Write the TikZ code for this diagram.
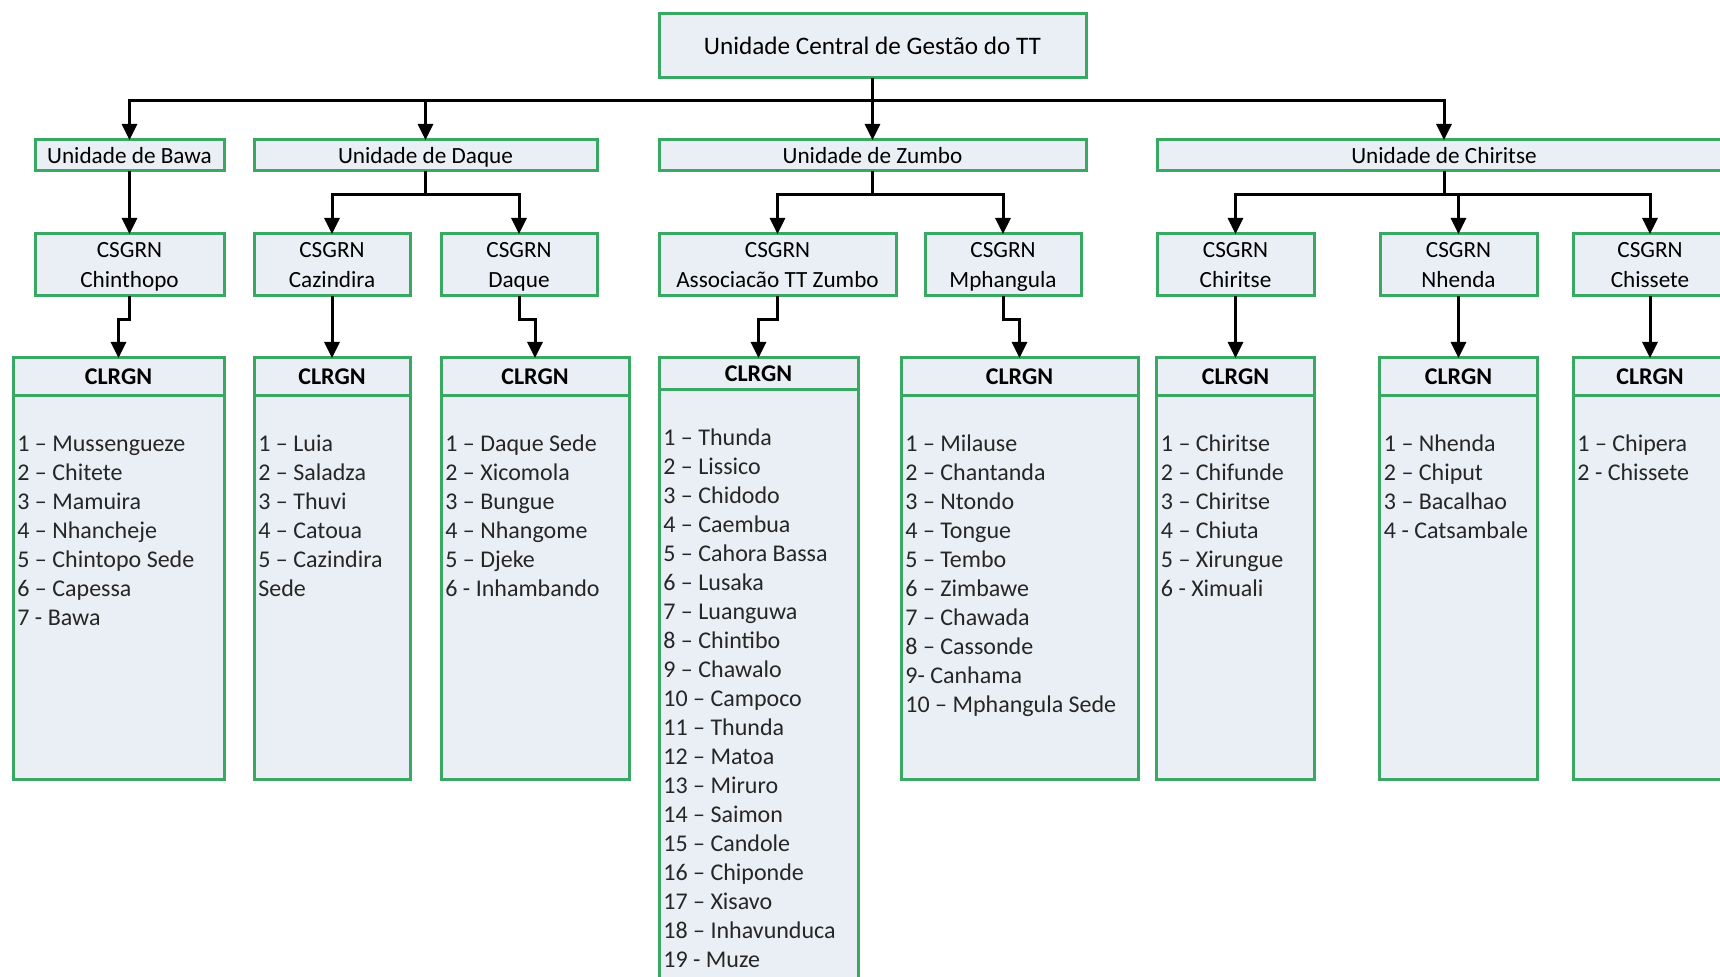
\documentclass[tikz,border=0pt]{standalone}
\usepackage{fontspec}
\setmainfont{Carlito}
\usetikzlibrary{arrows.meta,positioning}
\definecolor{boxgreen}{RGB}{56,168,98}
\definecolor{boxfill}{RGB}{234,239,245}
\def\sitelist(#1)#2{\foreach \site [count=\k] in {#2} \node[site] (#1-\k) at ([shift={(4,{56+29*(\k-1)})}]#1.north west) {\site};}

\begin{document}
\begin{tikzpicture}[x=0.5pt,y=-0.5pt,
		box/.style={draw=boxgreen,fill=boxfill,line width=1.5pt,inner sep=0pt,outer sep=0pt,align=center,text depth=0pt,font=\fontsize{11.6}{15}\selectfont},
		unit/.style={box,minimum height=15.5pt},
		csgrn/.style={box,minimum height=31pt},
		hdr/.style={box,minimum height=19pt,font=\bfseries\fontsize{12}{14}\selectfont},
		body/.style={box,minimum height=192pt},
		site/.style={anchor=base west,inner sep=0pt,text=black!85,font=\fontsize{12}{14.5}\selectfont},
		conn/.style={line width=1.5pt,-{Triangle[width=7.5pt,length=8pt]}}]
			%%%%% START %%%%%
			
			\path[use as bounding box,clip] (0,0) rectangle (1720,977);
			
			\node[box,minimum width=213.5pt,minimum height=32pt,font=\fontsize{12.6}{15}\selectfont] (central) at (872.5,46) {Unidade Central de Gestão do TT};
			
			\node[unit,minimum width=94.5pt] (ubawa) at (129.5,155.5) {Unidade de Bawa};
			\node[unit,minimum width=171.5pt] (udaque) at (425.5,155.5) {Unidade de Daque};
			\node[unit,minimum width=213.5pt] (uzumbo) at (872.5,155.5) {Unidade de Zumbo};
			\node[unit,minimum width=287pt] (uchiritse) at (1444,155.5) {Unidade de Chiritse};
			
			\node[csgrn,minimum width=94.5pt] (cchinthopo) at (129.5,265) {CSGRN\\Chinthopo};
			\node[csgrn,minimum width=78pt] (ccazindira) at (332,265) {CSGRN\\Cazindira};
			\node[csgrn,minimum width=78pt] (cdaque) at (519,265) {CSGRN\\Daque};
			\node[csgrn,minimum width=118.5pt] (cassoc) at (777.5,265) {CSGRN\\Associacão TT Zumbo};
			\node[csgrn,minimum width=78pt] (cmphangula) at (1003,265) {CSGRN\\Mphangula};
			\node[csgrn,minimum width=78.5pt] (cchiritse) at (1235.5,265) {CSGRN\\Chiritse};
			\node[csgrn,minimum width=78.5pt] (cnhenda) at (1458.5,265) {CSGRN\\Nhenda};
			\node[csgrn,minimum width=77pt] (cchissete) at (1650,265) {CSGRN\\Chissete};
			
			\node[hdr,minimum width=105.5pt] (h1) at (118.5,377) {CLRGN};
			\node[body,minimum width=105.5pt,below=0pt of h1] (b1) {};
			\node[hdr,minimum width=78pt] (h2) at (332,377) {CLRGN};
			\node[body,minimum width=78pt,below=0pt of h2] (b2) {};
			\node[hdr,minimum width=94pt] (h3) at (535,377) {CLRGN};
			\node[body,minimum width=94pt,below=0pt of h3] (b3) {};
			\node[hdr,minimum width=99.5pt,minimum height=16pt] (h4) at (758.5,374) {CLRGN};
			\node[body,minimum width=99.5pt,minimum height=305pt,below=0pt of h4] (b4) {};
			\node[hdr,minimum width=118.5pt] (h5) at (1019.5,377) {CLRGN};
			\node[body,minimum width=118.5pt,below=0pt of h5] (b5) {};
			\node[hdr,minimum width=79pt] (h6) at (1235.5,377) {CLRGN};
			\node[body,minimum width=79pt,below=0pt of h6] (b6) {};
			\node[hdr,minimum width=79pt] (h7) at (1458.5,377) {CLRGN};
			\node[body,minimum width=79pt,below=0pt of h7] (b7) {};
			\node[hdr,minimum width=77pt] (h8) at (1650,377) {CLRGN};
			\node[body,minimum width=77pt,below=0pt of h8] (b8) {};
			
			\sitelist(b1){1 – Mussengueze,2 – Chitete,3 – Mamuira,4 – Nhancheje,5 – Chintopo Sede,6 – Capessa,7 - Bawa}
			\sitelist(b2){1 – Luia,2 – Saladza,3 – Thuvi,4 – Catoua,5 – Cazindira,Sede}
			\sitelist(b3){1 – Daque Sede,2 – Xicomola,3 – Bungue,4 – Nhangome,5 – Djeke,6 - Inhambando}
			\sitelist(b4){1 – Thunda,2 – Lissico,3 – Chidodo,4 – Caembua,5 – Cahora Bassa,6 – Lusaka,7 – Luanguwa,8 – Chintibo,9 – Chawalo,10 – Campoco,11 – Thunda,12 – Matoa,13 – Miruro,14 – Saimon,15 – Candole,16 – Chiponde,17 – Xisavo,18 – Inhavunduca,19 - Muze}
			\sitelist(b5){1 – Milause,2 – Chantanda,3 – Ntondo,4 – Tongue,5 – Tembo,6 – Zimbawe,7 – Chawada,8 – Cassonde,9- Canhama,10 – Mphangula Sede}
			\sitelist(b6){1 – Chiritse,2 – Chifunde,3 – Chiritse,4 – Chiuta,5 – Xirungue,6 - Ximuali}
			\sitelist(b7){1 – Nhenda,2 – Chiput,3 – Bacalhao,4 - Catsambale}
			\sitelist(b8){1 – Chipera,2 - Chissete}
			
			\draw[conn] (central.south) -- ++(0,23) -| (ubawa);
			\draw[conn] (central.south) -- ++(0,23) -| (udaque);
			\draw[conn] (central) -- (uzumbo);
			\draw[conn] (central.south) -- ++(0,23) -| (uchiritse);
			
			\draw[conn] (ubawa) -- (cchinthopo);
			\draw[conn] (udaque.south) -- ++(0,24) -| (ccazindira);
			\draw[conn] (udaque.south) -- ++(0,24) -| (cdaque);
			\draw[conn] (uzumbo.south) -- ++(0,24) -| (cassoc);
			\draw[conn] (uzumbo.south) -- ++(0,24) -| (cmphangula);
			\draw[conn] (uchiritse.south) -- ++(0,24) -| (cchiritse);
			\draw[conn] (uchiritse.south) -- ++(0,24) -| (cnhenda);
			\draw[conn] (uchiritse.south) -- ++(0,24) -| (cchissete);
			
			\draw[conn] (cchinthopo.south) -- ++(0,24) -| (h1);
			\draw[conn] (ccazindira) -- (h2);
			\draw[conn] (cdaque.south) -- ++(0,24) -| (h3);
			\draw[conn] (cassoc.south) -- ++(0,24) -| (h4);
			\draw[conn] (cmphangula.south) -- ++(0,24) -| (h5);
			\draw[conn] (cchiritse) -- (h6);
			\draw[conn] (cnhenda) -- (h7);
			\draw[conn] (cchissete) -- (h8);
			
			%%%%% END %%%%%
		\end{tikzpicture}
\end{document}
